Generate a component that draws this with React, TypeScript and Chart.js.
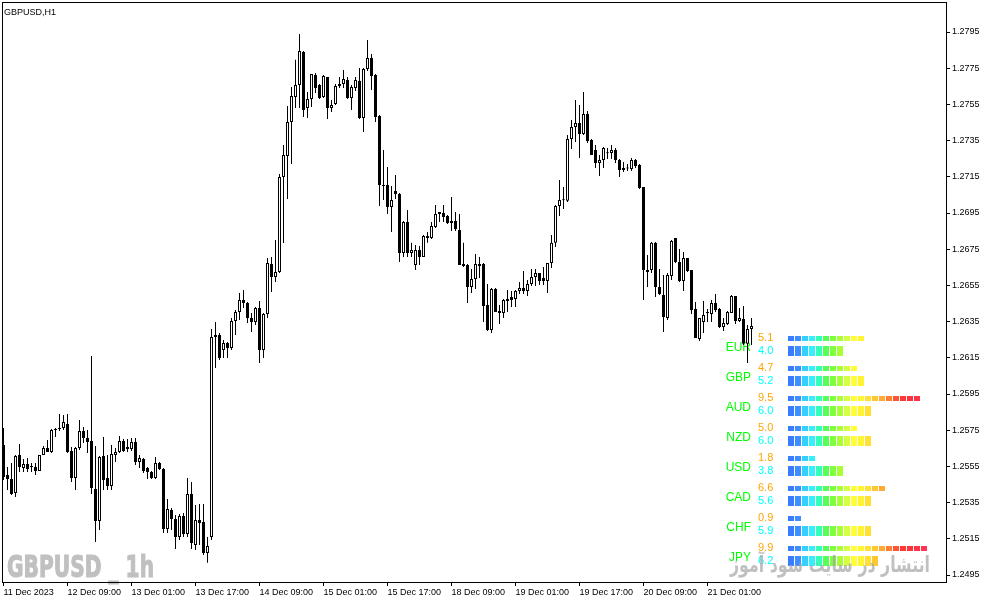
import React, { useEffect, useRef } from 'react';
import { Chart, registerables } from 'chart.js';

Chart.register(...registerables);

// ---------- text ----------
const chartTitle = 'GBPUSD,H1';
const watermarkText = 'GBPUSD _ 1h';
const siteText = 'انتشار در سایت سود آموز';

// ---------- GBPUSD H1 candles ----------
const candleOpen = [
  1.25668, 1.25503, 1.25481, 1.25403, 1.25613, 1.25541, 1.25563, 1.25552, 1.25547, 1.25525,
  1.25613, 1.25652, 1.25630, 1.25751, 1.25757, 1.25762, 1.25784, 1.25635, 1.25486, 1.25652,
  1.25746, 1.25707, 1.25690, 1.25425, 1.25248, 1.25608, 1.25486, 1.25442, 1.25613, 1.25630,
  1.25690, 1.25657, 1.25646, 1.25685, 1.25574, 1.25591, 1.25541, 1.25519, 1.25486, 1.25569,
  1.25536, 1.25204, 1.25309, 1.25259, 1.25160, 1.25276, 1.25177, 1.25398, 1.25116, 1.25254,
  1.25243, 1.25072, 1.25160, 1.26265, 1.26276, 1.26193, 1.26232, 1.26204, 1.26354, 1.26403,
  1.26470, 1.26453, 1.26370, 1.26348, 1.26425, 1.26193, 1.26392, 1.26668, 1.26597, 1.26624,
  1.27149, 1.27265, 1.27453, 1.27591, 1.27657, 1.27840, 1.27530, 1.27580, 1.27713, 1.27657,
  1.27591, 1.27702, 1.27530, 1.27552, 1.27652, 1.27663, 1.27685, 1.27586, 1.27641, 1.27680,
  1.27475, 1.27746, 1.27807, 1.27713, 1.27486, 1.27105, 1.27105, 1.26983, 1.27072, 1.27055,
  1.26729, 1.26900, 1.26729, 1.26663, 1.26746, 1.26707, 1.26823, 1.26812, 1.26873, 1.26945,
  1.26950, 1.26934, 1.26895, 1.26906, 1.26856, 1.26668, 1.26663, 1.26541, 1.26585, 1.26668,
  1.26668, 1.26442, 1.26304, 1.26530, 1.26409, 1.26398, 1.26475, 1.26486, 1.26475, 1.26519,
  1.26536, 1.26519, 1.26558, 1.26597, 1.26619, 1.26591, 1.26575, 1.26674, 1.26785, 1.26989,
  1.27022, 1.27017, 1.27359, 1.27425, 1.27447, 1.27387, 1.27497, 1.27353, 1.27298, 1.27226,
  1.27243, 1.27282, 1.27282, 1.27298, 1.27243, 1.27188, 1.27199, 1.27193, 1.27243, 1.27215,
  1.27094, 1.26635, 1.26635, 1.26785, 1.26541, 1.26497, 1.26370, 1.26602, 1.26812, 1.26679,
  1.26575, 1.26702, 1.26635, 1.26420, 1.26254, 1.26348, 1.26398, 1.26392, 1.26453, 1.26420,
  1.26320, 1.26337, 1.26398, 1.26492, 1.26354, 1.26365, 1.26227, 1.26309,
];
const candleHigh = [
  1.25762, 1.25547, 1.25569, 1.25613, 1.25674, 1.25591, 1.25597, 1.25569, 1.25569, 1.25613,
  1.25663, 1.25696, 1.25757, 1.25762, 1.25840, 1.25834, 1.25840, 1.25657, 1.25657, 1.25807,
  1.25768, 1.25751, 1.26160, 1.25663, 1.25608, 1.25713, 1.25613, 1.25668, 1.25652, 1.25718,
  1.25701, 1.25701, 1.25707, 1.25707, 1.25613, 1.25597, 1.25547, 1.25525, 1.25602, 1.25574,
  1.25541, 1.25370, 1.25320, 1.25282, 1.25287, 1.25293, 1.25486, 1.25464, 1.25337, 1.25342,
  1.25342, 1.25160, 1.26309, 1.26348, 1.26287, 1.26248, 1.26237, 1.26370, 1.26414, 1.26508,
  1.26525, 1.26458, 1.26398, 1.26431, 1.26464, 1.26398, 1.26702, 1.26707, 1.26801, 1.27166,
  1.27326, 1.27541, 1.27646, 1.27796, 1.27939, 1.27845, 1.27619, 1.27718, 1.27724, 1.27663,
  1.27713, 1.27702, 1.27575, 1.27663, 1.27702, 1.27740, 1.27702, 1.27657, 1.27702, 1.27751,
  1.27751, 1.27906, 1.27829, 1.27718, 1.27492, 1.27298, 1.27204, 1.27099, 1.27160, 1.27061,
  1.26906, 1.26967, 1.26785, 1.26773, 1.26768, 1.26829, 1.26845, 1.26900, 1.26994, 1.26956,
  1.26994, 1.26939, 1.27039, 1.26956, 1.26945, 1.26785, 1.26668, 1.26641, 1.26724, 1.26707,
  1.26674, 1.26558, 1.26536, 1.26536, 1.26442, 1.26475, 1.26525, 1.26519, 1.26525, 1.26569,
  1.26630, 1.26580, 1.26641, 1.26641, 1.26619, 1.26652, 1.26674, 1.26829, 1.26994, 1.27133,
  1.27094, 1.27381, 1.27464, 1.27575, 1.27547, 1.27619, 1.27514, 1.27359, 1.27326, 1.27271,
  1.27315, 1.27309, 1.27326, 1.27309, 1.27249, 1.27232, 1.27221, 1.27254, 1.27249, 1.27221,
  1.27094, 1.26718, 1.26790, 1.26790, 1.26641, 1.26608, 1.26619, 1.26801, 1.26812, 1.26751,
  1.26735, 1.26702, 1.26635, 1.26458, 1.26370, 1.26464, 1.26420, 1.26470, 1.26503, 1.26425,
  1.26370, 1.26409, 1.26497, 1.26492, 1.26425, 1.26436, 1.26331, 1.26370,
];
const candleLow = [
  1.25475, 1.25420, 1.25392, 1.25381, 1.25519, 1.25519, 1.25519, 1.25519, 1.25503, 1.25525,
  1.25613, 1.25630, 1.25624, 1.25713, 1.25746, 1.25751, 1.25624, 1.25464, 1.25420, 1.25641,
  1.25679, 1.25624, 1.25398, 1.25132, 1.25199, 1.25420, 1.25420, 1.25420, 1.25574, 1.25624,
  1.25630, 1.25630, 1.25635, 1.25558, 1.25541, 1.25514, 1.25481, 1.25481, 1.25481, 1.25530,
  1.25182, 1.25182, 1.25199, 1.25094, 1.25144, 1.25160, 1.25160, 1.25094, 1.25088, 1.25116,
  1.25061, 1.25017, 1.25144, 1.26094, 1.26138, 1.26149, 1.26149, 1.26193, 1.26276, 1.26359,
  1.26425, 1.26342, 1.26293, 1.26331, 1.26121, 1.26149, 1.26370, 1.26514, 1.26569, 1.26619,
  1.26784, 1.27028, 1.27221, 1.27530, 1.27530, 1.27481, 1.27475, 1.27536, 1.27613, 1.27580,
  1.27586, 1.27470, 1.27508, 1.27547, 1.27641, 1.27641, 1.27580, 1.27519, 1.27624, 1.27470,
  1.27398, 1.27735, 1.27630, 1.27453, 1.26989, 1.27022, 1.26945, 1.26845, 1.27028, 1.26679,
  1.26707, 1.26707, 1.26707, 1.26635, 1.26663, 1.26707, 1.26785, 1.26807, 1.26867, 1.26900,
  1.26900, 1.26889, 1.26851, 1.26851, 1.26663, 1.26652, 1.26453, 1.26508, 1.26530, 1.26591,
  1.26348, 1.26298, 1.26287, 1.26403, 1.26337, 1.26370, 1.26403, 1.26431, 1.26431, 1.26503,
  1.26503, 1.26492, 1.26547, 1.26547, 1.26552, 1.26552, 1.26508, 1.26646, 1.26762, 1.26934,
  1.26972, 1.27011, 1.27304, 1.27342, 1.27254, 1.27381, 1.27337, 1.27271, 1.27199, 1.27155,
  1.27199, 1.27249, 1.27249, 1.27226, 1.27149, 1.27177, 1.27182, 1.27182, 1.27199, 1.27083,
  1.26470, 1.26541, 1.26619, 1.26486, 1.26497, 1.26293, 1.26359, 1.26580, 1.26674, 1.26569,
  1.26519, 1.26624, 1.26392, 1.26260, 1.26243, 1.26287, 1.26348, 1.26348, 1.26403, 1.26315,
  1.26298, 1.26331, 1.26398, 1.26337, 1.26348, 1.26221, 1.26121, 1.26221,
];
const candleClose = [
  1.25492, 1.25481, 1.25398, 1.25608, 1.25547, 1.25563, 1.25536, 1.25547, 1.25525, 1.25613,
  1.25652, 1.25630, 1.25751, 1.25757, 1.25760, 1.25795, 1.25630, 1.25486, 1.25652, 1.25746,
  1.25707, 1.25685, 1.25431, 1.25248, 1.25602, 1.25475, 1.25442, 1.25619, 1.25630, 1.25690,
  1.25635, 1.25646, 1.25685, 1.25574, 1.25597, 1.25525, 1.25519, 1.25486, 1.25569, 1.25536,
  1.25204, 1.25315, 1.25259, 1.25160, 1.25276, 1.25177, 1.25398, 1.25127, 1.25254, 1.25237,
  1.25072, 1.25110, 1.26265, 1.26276, 1.26149, 1.26232, 1.26204, 1.26354, 1.26403, 1.26470,
  1.26453, 1.26370, 1.26348, 1.26425, 1.26193, 1.26392, 1.26674, 1.26597, 1.26624, 1.27149,
  1.27271, 1.27453, 1.27597, 1.27657, 1.27845, 1.27519, 1.27580, 1.27718, 1.27641, 1.27586,
  1.27707, 1.27530, 1.27547, 1.27652, 1.27663, 1.27691, 1.27586, 1.27646, 1.27685, 1.27475,
  1.27746, 1.27807, 1.27707, 1.27481, 1.27105, 1.27099, 1.26983, 1.27022, 1.27055, 1.26729,
  1.26900, 1.26729, 1.26746, 1.26746, 1.26707, 1.26823, 1.26812, 1.26878, 1.26945, 1.26956,
  1.26928, 1.26895, 1.26906, 1.26862, 1.26663, 1.26657, 1.26541, 1.26585, 1.26668, 1.26657,
  1.26436, 1.26304, 1.26530, 1.26403, 1.26398, 1.26470, 1.26464, 1.26470, 1.26519, 1.26536,
  1.26519, 1.26558, 1.26597, 1.26619, 1.26575, 1.26575, 1.26674, 1.26785, 1.26989, 1.27022,
  1.27020, 1.27359, 1.27425, 1.27447, 1.27387, 1.27497, 1.27348, 1.27271, 1.27226, 1.27243,
  1.27309, 1.27280, 1.27298, 1.27243, 1.27188, 1.27199, 1.27196, 1.27243, 1.27210, 1.27088,
  1.26635, 1.26624, 1.26785, 1.26541, 1.26503, 1.26376, 1.26608, 1.26795, 1.26679, 1.26575,
  1.26702, 1.26630, 1.26414, 1.26260, 1.26370, 1.26387, 1.26400, 1.26453, 1.26414, 1.26320,
  1.26342, 1.26403, 1.26492, 1.26354, 1.26370, 1.26227, 1.26309, 1.26326,
];

// ---------- axes ----------
const xTickBars = [0, 16, 32, 48, 64, 80, 96, 112, 128, 144, 160, 176];
const xTickLabels = [
  '11 Dec 2023', '12 Dec 09:00', '13 Dec 01:00', '13 Dec 17:00', '14 Dec 09:00', '15 Dec 01:00',
  '15 Dec 17:00', '18 Dec 09:00', '19 Dec 01:00', '19 Dec 17:00', '20 Dec 09:00', '21 Dec 01:00',
];
const yTickValues = [
  1.2495, 1.2515, 1.2535, 1.2555, 1.2575, 1.2595, 1.2615, 1.2635,
  1.2655, 1.2675, 1.2695, 1.2715, 1.2735, 1.2755, 1.2775, 1.2795,
];

// ---------- currency strength meter ----------
const currencies = ['EUR', 'GBP', 'AUD', 'NZD', 'USD', 'CAD', 'CHF', 'JPY'];
const strengthShort = [5.1, 4.7, 9.5, 5.0, 1.8, 6.6, 0.9, 9.9];
const strengthLong = [4.0, 5.2, 6.0, 6.0, 3.8, 5.6, 5.9, 6.2];

// ---------- layout / style ----------
const W = 987;
const H = 605;
const PRICE_MIN = 1.24911326;
const PRICE_MAX = 1.28115746;
const BAR_MIN = -0.375;
const BAR_MAX = 235.625;
const SEG_MIN = -112.714286;
const SEG_MAX = 22.142857;
const ROW_MIN = -11.533333;
const ROW_MAX = 7.8;
const SHORT_ROW = [-12 / 30, -7 / 30];
const LONG_ROW = [-2 / 30, 8 / 30];
const LABEL_RIGHT = -5.714;
const VALUE_LEFT = -4.714;
const SEG_COLORS = [
  '#3a7cff', '#3d8eff', '#33d0ff', '#33f0ff', '#33ffbb', '#55ff55', '#80ff40', '#aaff33',
  '#d4ff44', '#ffff33', '#fff533', '#ffe033', '#ffc833', '#ffaa33', '#ff8033', '#ff5533',
  '#ff3838', '#ff3340', '#ff3348', '#ff3355',
];
const FONT = '"Liberation Sans", Arial, sans-serif';

function segCount(v: number) {
  return Math.ceil(v * 2 - 1e-9);
}

export default function App() {
  const ref = useRef<HTMLCanvasElement>(null);

  useEffect(() => {
    document.body.style.margin = '0';
    const canvas = ref.current;
    if (!canvas) return;

    const idx = candleOpen.map((_, i) => i);
    const wickData = idx.map((i) => ({ x: i, y: [candleLow[i], candleHigh[i]] }));
    const bodyData = idx.map((i) => ({ x: i, y: [candleOpen[i], candleClose[i]] }));
    const bodyFill = idx.map((i) => (candleClose[i] < candleOpen[i] ? '#000000' : '#ffffff'));

    const shortData: any[] = [];
    const shortColors: string[] = [];
    const longData: any[] = [];
    const longColors: string[] = [];
    currencies.forEach((_, i) => {
      for (let j = 0; j < segCount(strengthShort[i]); j++) {
        shortData.push({ x: j, y: [i + SHORT_ROW[0], i + SHORT_ROW[1]] });
        shortColors.push(SEG_COLORS[j]);
      }
      for (let j = 0; j < segCount(strengthLong[i]); j++) {
        longData.push({ x: j, y: [i + LONG_ROW[0], i + LONG_ROW[1]] });
        longColors.push(SEG_COLORS[j]);
      }
    });

    const decor = {
      id: 'decor',
      beforeDatasetsDraw(chart: any) {
        const { ctx, chartArea: a } = chart;
        const xm = chart.scales.xm;
        const ym = chart.scales.ym;
        ctx.save();
        // big watermark (heavy, condensed)
        ctx.fillStyle = '#c0c0c0';
        ctx.strokeStyle = '#c0c0c0';
        ctx.lineWidth = 1.2;
        ctx.font = 'bold 30px "DejaVu Sans", "Liberation Sans", sans-serif';
        ctx.textAlign = 'left';
        ctx.textBaseline = 'alphabetic';
        ctx.fillText(watermarkText, a.left + 5, a.bottom - 5, 147);
        ctx.strokeText(watermarkText, a.left + 5, a.bottom - 5, 147);
        // title
        ctx.fillStyle = '#000000';
        ctx.font = '9px ' + FONT;
        ctx.fillText(chartTitle, a.left + 2, a.top + 13);
        // meter texts
        ctx.textBaseline = 'middle';
        currencies.forEach((c, i) => {
          ctx.font = '12px ' + FONT;
          ctx.textAlign = 'right';
          ctx.fillStyle = '#00ff00';
          ctx.fillText(c, xm.getPixelForValue(LABEL_RIGHT), ym.getPixelForValue(i));
          ctx.font = '11px ' + FONT;
          ctx.textAlign = 'left';
          ctx.fillStyle = '#ffa500';
          ctx.fillText(strengthShort[i].toFixed(1), xm.getPixelForValue(VALUE_LEFT), ym.getPixelForValue(i - 10 / 30));
          ctx.fillStyle = '#00ffff';
          ctx.fillText(strengthLong[i].toFixed(1), xm.getPixelForValue(VALUE_LEFT), ym.getPixelForValue(i + 2.5 / 30));
        });
        ctx.restore();
      },
      afterDatasetsDraw(chart: any) {
        const { ctx, chartArea: a } = chart;
        ctx.save();
        ctx.fillStyle = 'rgba(165,165,165,0.7)';
        ctx.font = 'bold 22px "DejaVu Sans", sans-serif';
        ctx.textAlign = 'right';
        ctx.textBaseline = 'alphabetic';
        ctx.fillText(siteText, a.right - 16, a.bottom - 10, 200);
        ctx.strokeStyle = '#000000';
        ctx.lineWidth = 1;
        ctx.strokeRect(a.left + 0.5, a.top + 0.5, a.width, a.height);
        ctx.restore();
      },
    };

    const chart = new Chart(canvas, {
      type: 'bar',
      data: {
        datasets: [
          {
            label: 'strength-short',
            data: shortData,
            xAxisID: 'xm',
            yAxisID: 'ym',
            backgroundColor: shortColors,
            borderWidth: 0,
            barThickness: 6,
            maxBarThickness: 6,
            grouped: false,
            inflateAmount: 0,
            order: 0,
          } as any,
          {
            label: 'strength-long',
            data: longData,
            xAxisID: 'xm',
            yAxisID: 'ym',
            backgroundColor: longColors,
            borderWidth: 0,
            barThickness: 6,
            maxBarThickness: 6,
            grouped: false,
            inflateAmount: 0,
            order: 0,
          } as any,
          {
            label: 'body',
            data: bodyData,
            xAxisID: 'x',
            yAxisID: 'y',
            backgroundColor: bodyFill,
            borderColor: '#000000',
            borderWidth: 1,
            borderSkipped: false,
            minBarLength: 1,
            barThickness: 3,
            maxBarThickness: 3,
            grouped: false,
            inflateAmount: 0,
            order: 1,
          } as any,
          {
            label: 'wick',
            data: wickData,
            xAxisID: 'x',
            yAxisID: 'y',
            backgroundColor: '#000000',
            borderWidth: 0,
            barThickness: 1,
            maxBarThickness: 1,
            grouped: false,
            inflateAmount: 0,
            order: 2,
          } as any,
        ],
      },
      options: {
        animation: false,
        responsive: false,
        maintainAspectRatio: false,
        devicePixelRatio: 1,
        events: [],
        layout: { padding: { left: 2, top: 2, right: 0, bottom: 0 }, autoPadding: false } as any,
        plugins: { legend: { display: false }, tooltip: { enabled: false }, title: { display: false } },
        scales: {
          x: {
            type: 'linear',
            position: 'bottom',
            min: BAR_MIN,
            max: BAR_MAX,
            offset: false,
            afterBuildTicks: (s: any) => {
              s.ticks = xTickBars.map((v) => ({ value: v }));
            },
            afterFit: (s: any) => {
              s.height = H - 582;
              s.paddingLeft = 0;
              s.paddingRight = 0;
            },
            ticks: {
              autoSkip: false,
              maxRotation: 0,
              align: 'start',
              padding: 1,
              color: '#000000',
              font: { family: FONT, size: 9 },
              callback: (v: any) => {
                const k = xTickBars.indexOf(Number(v));
                return k >= 0 ? xTickLabels[k] : '';
              },
            },
            grid: { drawOnChartArea: false, drawTicks: true, tickLength: 4, color: '#000000', offset: false },
            border: { display: false },
          } as any,
          y: {
            type: 'linear',
            position: 'right',
            min: PRICE_MIN,
            max: PRICE_MAX,
            beginAtZero: false,
            afterBuildTicks: (s: any) => {
              s.ticks = yTickValues.map((v) => ({ value: v }));
            },
            afterFit: (s: any) => {
              s.width = W - 946;
              s.paddingTop = 0;
              s.paddingBottom = 0;
            },
            ticks: {
              autoSkip: false,
              padding: 2,
              color: '#000000',
              font: { family: FONT, size: 9 },
              callback: (v: any) => Number(v).toFixed(4),
            },
            grid: { drawOnChartArea: false, drawTicks: true, tickLength: 4, color: '#000000' },
            border: { display: false },
          } as any,
          xm: {
            type: 'linear',
            axis: 'x',
            position: 'bottom',
            display: false,
            min: SEG_MIN,
            max: SEG_MAX,
            offset: false,
          } as any,
          ym: {
            type: 'linear',
            axis: 'y',
            position: 'left',
            display: false,
            reverse: true,
            min: ROW_MIN,
            max: ROW_MAX,
            beginAtZero: false,
          } as any,
        },
      },
      plugins: [decor],
    });

    return () => {
      chart.destroy();
    };
  }, []);

  return (
    <div style={{ position: 'relative', width: W, height: H, background: '#ffffff' }}>
      <canvas ref={ref} width={W} height={H} style={{ display: 'block', width: W, height: H }} />
    </div>
  );
}
